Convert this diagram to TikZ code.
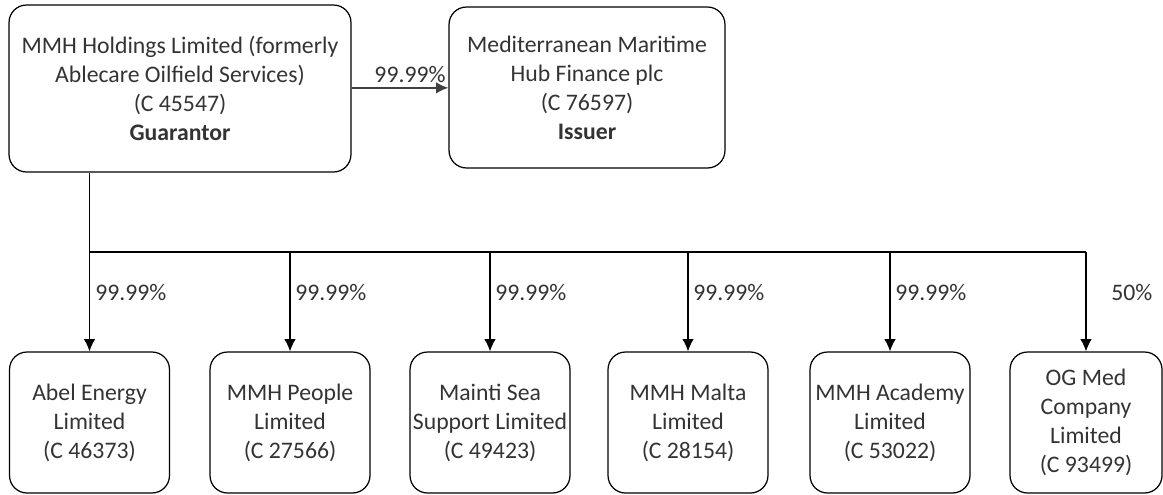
\documentclass[tikz,border=0pt]{standalone}
\usepackage{fontspec}
\setmainfont{Carlito}
\usetikzlibrary{positioning, arrows.meta}
\tikzset{
	company/.style={draw, rectangle, rounded corners=0.35cm, inner sep=1pt, align=center, line width=0.7pt, text=black!80, font=\fontsize{13.5}{16.5}\selectfont},
	holding/.style={company, minimum width=6.84cm, minimum height=3.34cm},
	issuer/.style={company, minimum width=5.52cm, minimum height=3.22cm},
	subsid/.style={company, minimum width=3.2cm, minimum height=2.82cm},
	% percentage labels on the connectors
	share/.style={inner sep=0pt, text=black!80, font=\fontsize{13.5}{16.5}\selectfont},
}

\begin{document}
\begin{tikzpicture}[x=0.02cm, y=-0.02cm]
	\useasboundingbox (0,0) rectangle (1163,494);
	
	\node (guar) [holding] at (180,88.5) {MMH Holdings Limited (formerly\\Ablecare Oilfield Services)\\(C 45547)\\\textbf{Guarantor}};
	\node (iss) [issuer] at (587,87.5) {Mediterranean Maritime\\Hub Finance plc\\(C 76597)\\\textbf{Issuer}};
	
	\node (sub1) [subsid] at (89.5,422.5) {Abel Energy\\Limited\\(C 46373)};
	\node (sub2) [subsid] at (290,422.5) {MMH People\\Limited\\(C 27566)};
	\node (sub3) [subsid] at (490,422.5) {Mainti Sea\\Support Limited\\(C 49423)};
	\node (sub4) [subsid] at (688,422.5) {MMH Malta\\Limited\\(C 28154)};
	\node (sub5) [subsid] at (890,422.5) {MMH Academy\\Limited\\(C 53022)};
	\node (sub6) [subsid, minimum width=3.04cm] at (1086,422.5) {OG Med\\Company\\Limited\\(C 93499)};
	
	\coordinate (bus) at (0,252);
	
	\node (p0) [share] at (410,75) {99.99\%};
	\node (p1) [share, anchor=west] at (95,293) {99.99\%};
	\node (p2) [share, anchor=west] at (295,293) {99.99\%};
	\node (p3) [share, anchor=west] at (495,293) {99.99\%};
	\node (p4) [share, anchor=west] at (693,293) {99.99\%};
	\node (p5) [share, anchor=west] at (895,293) {99.99\%};
	\node (p6) [share, anchor=west] at (1111,293) {50\%};
	
	\begin{scope}[line width=0.7pt, black, ->, >={Latex[length=7pt, width=6.5pt]}]
		\draw[line width=1pt, black!75] (guar) -- (iss);
		
		\draw[-] (guar.south -| sub1.north) -- (sub1.north |- bus) -- (sub6.north |- bus);
		\draw (sub1.north |- bus) -- (sub1.north);
		\draw (sub2.north |- bus) -- (sub2.north);
		\draw (sub3.north |- bus) -- (sub3.north);
		\draw (sub4.north |- bus) -- (sub4.north);
		\draw (sub5.north |- bus) -- (sub5.north);
		\draw (sub6.north |- bus) -- (sub6.north);
		
	\end{scope}
	
\end{tikzpicture}
\end{document}
